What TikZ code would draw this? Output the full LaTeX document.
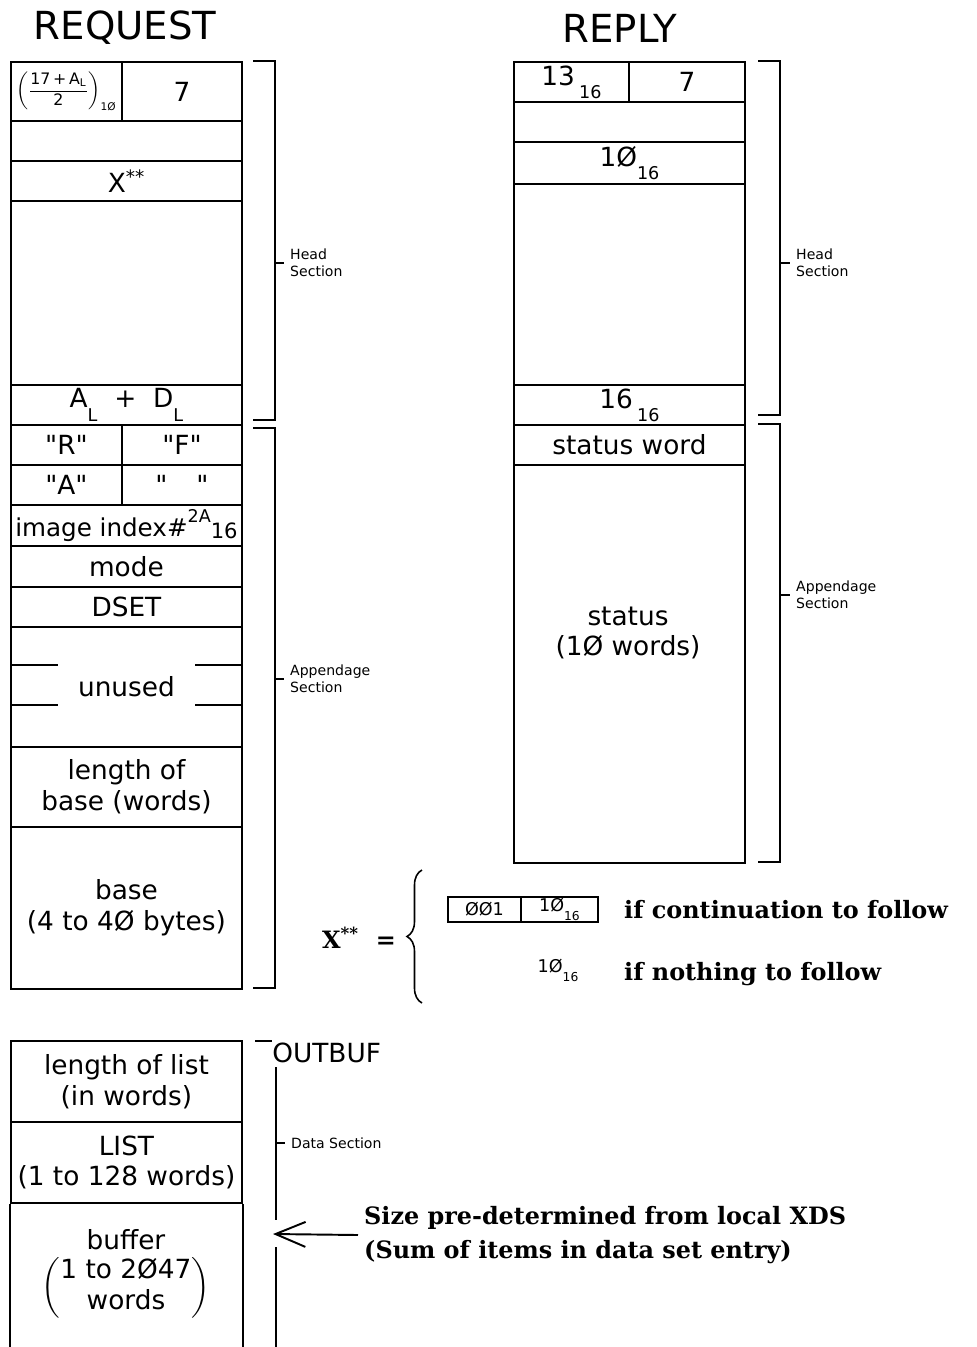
\documentclass[tikz,border=0pt]{standalone}
\usepackage{amsmath}
\usepackage{fontspec}
\setmainfont{DejaVu Sans}[Ligatures = TeXOff]
\newfontfamily\notefont{DejaVu Serif}
\usepackage{tikz}
\usetikzlibrary{arrows.meta, decorations.pathreplacing}
\newcommand{\hexsub}[2][10]{\raisebox{-0.5em}{\fontsize{#1}{#1}\selectfont #2}}
\tikzset{cell/.style = {draw, line width = 1.1pt, anchor = north west, inner sep = 0pt, align = center, font = \fontsize{15}{17.6}\selectfont}}
\tikzset{brack/.style = {line width = 1.1pt}}
\tikzset{tag/.style = {anchor = west, align = left, font = \fontsize{8}{9.6}\selectfont}}
\tikzset{note/.style = {anchor = west, align = left, font = \notefont\bfseries\fontsize{13.6}{19}\selectfont}}
\tikzset{heading/.style = {font = \fontsize{22}{26}\selectfont}}

\begin{document}
\begin{tikzpicture}[x = 0.02cm, y = -0.02cm]
	\useasboundingbox (0, 0) rectangle (977, 1347);

	\node[heading] (req) at (125, 28) {REQUEST};
	\node[heading] (rep) at (620, 28) {REPLY};

	\node[cell, minimum width = 2.22cm, minimum height = 1.18cm] (rqa) at (10, 61) {\fontsize{9}{11}\selectfont$\displaystyle\left(\frac{\text{17\,+\,A}_{\text{L}}}{\text{2}}\right)_{\text{1Ø}}$};
	\node[cell, minimum width = 2.4cm, minimum height = 1.18cm] (rqb) at (121, 61) {7};
	\node[cell, minimum width = 4.62cm, minimum height = 0.8cm] (rqc) at (10, 120) {};
	\node[cell, minimum width = 4.62cm, minimum height = 0.8cm] (rqd) at (10, 160) {X\textsuperscript{**}};
	\node[cell, minimum width = 4.62cm, minimum height = 3.68cm] (rqe) at (10, 200) {};
	\node[cell, minimum width = 4.62cm, minimum height = 0.8cm] (rqf) at (10, 384) {A\hexsub{L} \ + \ D\hexsub{L}};
	\node[cell, minimum width = 2.22cm, minimum height = 0.8cm] (rqg) at (10, 424) {"R"};
	\node[cell, minimum width = 2.4cm, minimum height = 0.8cm] (rqh) at (121, 424) {"F"};
	\node[cell, minimum width = 2.22cm, minimum height = 0.8cm] (rqi) at (10, 464) {"A"};
	\node[cell, minimum width = 2.4cm, minimum height = 0.8cm] (rqj) at (121, 464) {"\hspace{1.1em}"};
	\node[cell, minimum width = 4.62cm, minimum height = 0.82cm] (rqk) at (10, 504) {\fontsize{14}{16}\selectfont image index\#\raisebox{0.55em}{\fontsize{10}{10}\selectfont 2A}\raisebox{-0.1em}{\fontsize{12}{12}\selectfont 16}};
	\node[cell, minimum width = 4.62cm, minimum height = 0.82cm] (rql) at (10, 545) {mode};
	\node[cell, minimum width = 4.62cm, minimum height = 0.8cm] (rqm) at (10, 586) {DSET};
	\node[cell, minimum width = 4.62cm, minimum height = 2.4cm] (rqn) at (10, 626) {unused};
	\node[cell, minimum width = 4.62cm, minimum height = 1.6cm] (rqo) at (10, 746) {length of\\base (words)};
	\node[cell, minimum width = 4.62cm, minimum height = 3.24cm] (rqp) at (10, 826) {base\\(4 to 4Ø bytes)};

	\draw[brack] (rqn.north west) ++(0, 39) -- ++(48, 0);
	\draw[brack] (rqn.north west) ++(0, 79) -- ++(48, 0);
	\draw[brack] (rqn.north east) ++(0, 39) -- ++(-48, 0);
	\draw[brack] (rqn.north east) ++(0, 79) -- ++(-48, 0);

	\node[cell, minimum width = 2.3cm, minimum height = 0.8cm] (rpa) at (513, 61) {13\,\hexsub{16}};
	\node[cell, minimum width = 2.32cm, minimum height = 0.8cm] (rpb) at (628, 61) {7};
	\node[cell, minimum width = 4.62cm, minimum height = 0.8cm] (rpc) at (513, 101) {};
	\node[cell, minimum width = 4.62cm, minimum height = 0.84cm] (rpd) at (513, 141) {1Ø\hexsub{16}};
	\node[cell, minimum width = 4.62cm, minimum height = 4.02cm] (rpe) at (513, 183) {};
	\node[cell, minimum width = 4.62cm, minimum height = 0.8cm] (rpf) at (513, 384) {16\,\hexsub{16}};
	\node[cell, minimum width = 4.62cm, minimum height = 0.8cm] (rpg) at (513, 424) {status word};
	\node[cell, minimum width = 4.62cm, minimum height = 7.96cm] (rph) at (513, 464) {};
	\node[cell, draw = none, anchor = center] (rphtext) at (628, 633) {status\\(1Ø words)};

	\draw[brack] (253, 61) -- (275, 61) -- (275, 420) -- (253, 420);
	\node[tag] (rqhead) at (284, 263) {Head\\Section};
	\draw[brack] (275, 263) -- (rqhead.west);
	\draw[brack] (253, 428) -- (275, 428) -- (275, 988) -- (253, 988);
	\node[tag] (rqapp) at (284, 679) {Appendage\\Section};
	\draw[brack] (275, 679) -- (rqapp.west);

	\draw[brack] (758, 61) -- (780, 61) -- (780, 415) -- (758, 415);
	\node[tag] (rphead) at (790, 263) {Head\\Section};
	\draw[brack] (780, 263) -- (rphead.west);
	\draw[brack] (758, 424) -- (780, 424) -- (780, 862) -- (758, 862);
	\node[tag] (rpapp) at (790, 595) {Appendage\\Section};
	\draw[brack] (780, 595) -- (rpapp.west);

	\node[note] (xstar) at (316, 938) {X\textsuperscript{**} \ =};
	\coordinate (brbot) at (422, 1003);
	\coordinate (brtop) at (422, 870);
	\draw[line width = 0.9pt, decorate, decoration = {brace, amplitude = 0.3cm}] (brbot) -- (brtop);
	\node[cell, minimum width = 1.46cm, minimum height = 0.5cm, font = \fontsize{10}{12}\selectfont] (xba) at (447, 896) {ØØ1};
	\node[cell, minimum width = 1.54cm, minimum height = 0.5cm, font = \fontsize{10}{12}\selectfont] (xbb) at (520, 896) {1Ø\hexsub[7]{16}};
	\node[note] (ifcont) at (618, 910) {if continuation to follow};
	\node[font = \fontsize{10}{12}\selectfont] (xnone) at (558, 970) {1Ø\hexsub[7]{16}};
	\node[note] (ifnone) at (618, 974) {if nothing to follow};

	\node[cell, minimum width = 4.62cm, minimum height = 1.62cm] (oba) at (10, 1040) {length of list\\(in words)};
	\node[cell, minimum width = 4.62cm, minimum height = 1.62cm] (obb) at (10, 1121) {LIST\\(1 to 128 words)};
	\draw[brack] (obb.south west) -- ++(0, 160);
	\draw[brack] (obb.south east) -- ++(0, 160);
	\node[cell, draw = none, anchor = center] (obtext) at (126, 1274) {buffer\\[3pt]$\left(\begin{tabular}{@{}c@{}}1 to 2Ø47\\words\end{tabular}\right)$};

	\draw[brack] (255, 1041) -- (272, 1041);
	\node[anchor = west, inner sep = 0pt, font = \fontsize{15}{17.6}\selectfont] (outbuf) at (272, 1053) {OUTBUF};
	\draw[brack] (276, 1067) -- (276, 1220);
	\draw[brack] (276, 1247) -- (276, 1347);
	\node[tag] (datasec) at (285, 1143) {Data Section};
	\draw[brack] (276, 1143) -- (datasec.west);

	\coordinate (tip) at (273, 1234);
	\node[note] (sizenote) at (358, 1235) {Size pre-determined from local XDS\\(Sum of items in data set entry)};
	\draw[brack, -{Straight Barb[length = 0.6cm, width = 0.5cm]}] (sizenote.west) -- (tip);
\end{tikzpicture}
\end{document}
